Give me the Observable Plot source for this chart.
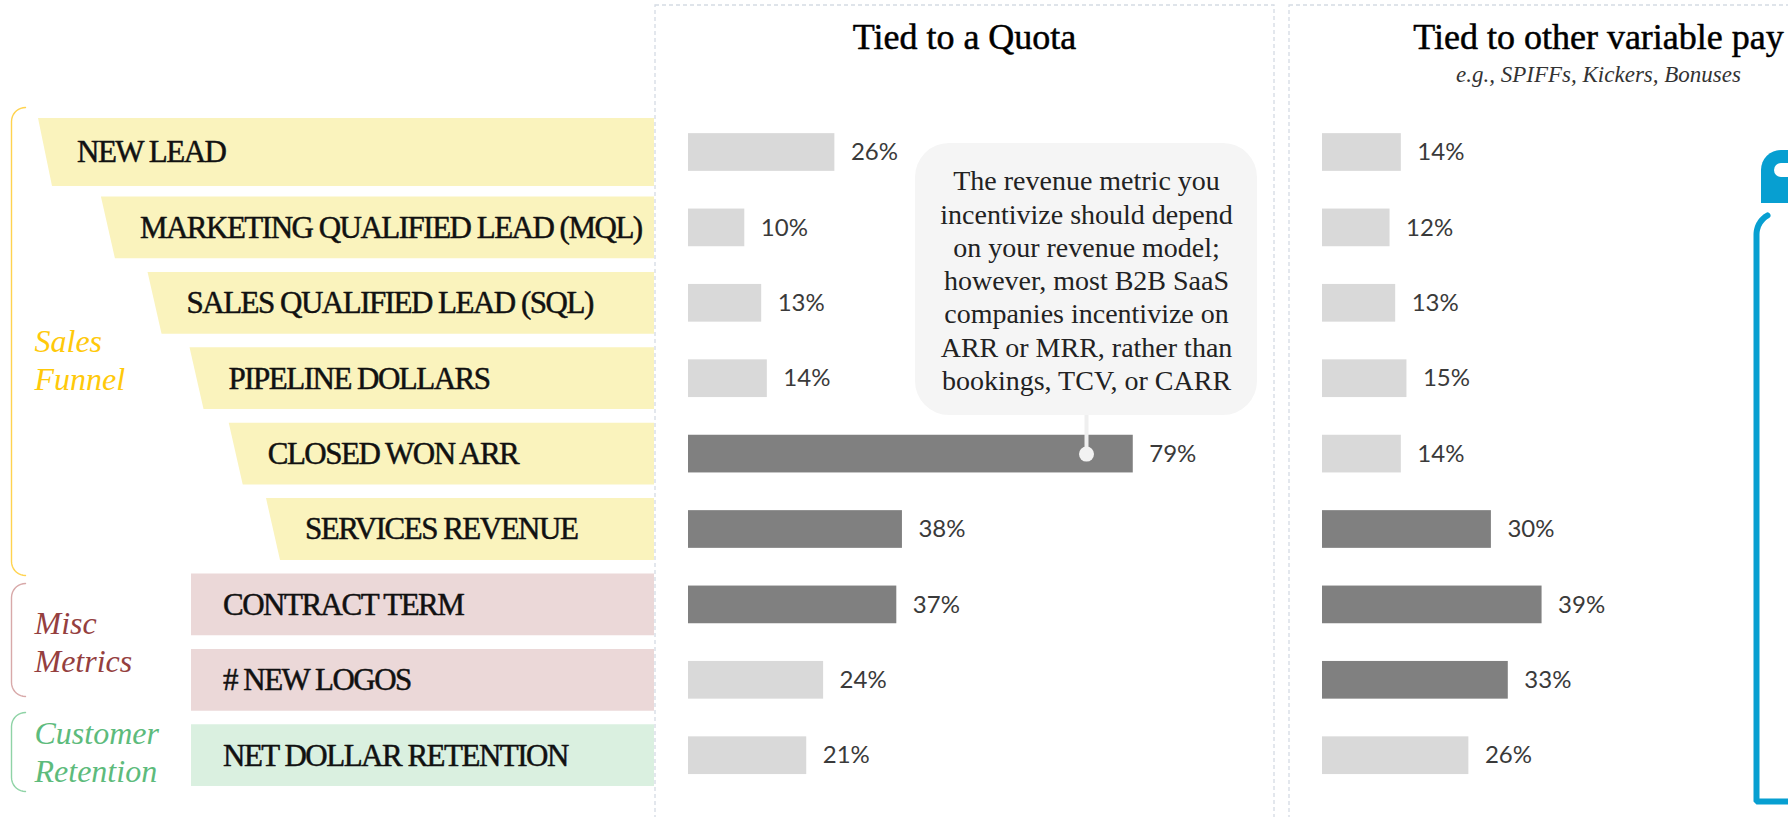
<!DOCTYPE html>
<html>
<head>
<meta charset="utf-8">
<script src="https://cdn.jsdelivr.net/npm/d3@7"></script>
<script src="https://cdn.jsdelivr.net/npm/@observablehq/plot@0.6"></script>
<style>
  html, body { margin: 0; padding: 0; background: #fff; }
  #chart { width: 1788px; height: 817px; overflow: hidden; }
</style>
</head>
<body>
<div id="chart"></div>
<script>
// ---------------- data ----------------
const categories = [
  "NEW LEAD",
  "MARKETING QUALIFIED LEAD (MQL)",
  "SALES QUALIFIED LEAD (SQL)",
  "PIPELINE DOLLARS",
  "CLOSED WON ARR",
  "SERVICES REVENUE",
  "CONTRACT TERM",
  "# NEW LOGOS",
  "NET DOLLAR RETENTION"
];
const categoryGroups = [
  "Sales Funnel", "Sales Funnel", "Sales Funnel", "Sales Funnel", "Sales Funnel", "Sales Funnel",
  "Misc Metrics", "Misc Metrics",
  "Customer Retention"
];
const tiedToQuota    = [26, 10, 13, 14, 79, 38, 37, 24, 21];
const tiedToOtherPay = [14, 12, 13, 15, 14, 30, 39, 33, 26];
const panelTitles    = ["Tied to a Quota", "Tied to other variable pay"];
const panelSubtitles = ["", "e.g., SPIFFs, Kickers, Bonuses"];
const groupNames     = ["Sales Funnel", "Misc Metrics", "Customer Retention"];
const groupLabels    = ["Sales\nFunnel", "Misc\nMetrics", "Customer\nRetention"];
const calloutCategory = "CLOSED WON ARR";
const calloutText = [
  "The revenue metric you",
  "incentivize should depend",
  "on your revenue model;",
  "however, most B2B SaaS",
  "companies incentivize on",
  "ARR or MRR, rather than",
  "bookings, TCV, or CARR"
].join("\n");
const highlightThreshold = 30; // bars at or above are emphasised

// ---------------- layout helpers ----------------
const W = 1788, H = 817;
const PX0 = 688, PX_PER_PCT = 5.63;   // where 0% sits, pixels per percentage point
const ROW0 = 152, ROW_STEP = 75.4;    // first row centre, row spacing
const X = px => (px - PX0) / PX_PER_PCT;
const Y = py => (py - ROW0) / ROW_STEP;
const panelOffset = [0, X(1322)];

const groupColor   = {"Sales Funnel": "#ffc90a", "Misc Metrics": "#953f3f", "Customer Retention": "#5dbb7c"};
const bracketColor = {"Sales Funnel": "#ffd34f", "Misc Metrics": "#d8a9a9", "Customer Retention": "#8fd3a6"};
const bannerFill   = {"Sales Funnel": "#faf3bd", "Misc Metrics": "#ebd8d8", "Customer Retention": "#daf0e0"};
const DARK = "#808080", LIGHT = "#d9d9d9", BLUE = "#079fd1";

// banners (funnel trapezoids + rectangles)
const funnelCount = categoryGroups.filter(g => g === "Sales Funnel").length;
const bannerRows = [], bannerLabels = [];
categories.forEach((c, i) => {
  const inFunnel = categoryGroups[i] === "Sales Funnel";
  const tl = inFunnel ? 38 + 228 * Math.pow(i / (funnelCount - 1), 0.8) : 191;
  const bl = inFunnel ? tl + 14 : tl;
  const half = i === 0 ? 0.45 : 0.41;
  const fill = bannerFill[categoryGroups[i]];
  bannerRows.push({id: c, y: i - half, x1: X(tl), x2: X(654), fill});
  bannerRows.push({id: c, y: i + half, x1: X(bl), x2: X(654), fill});
  bannerLabels.push({text: c, y: i, x: X((tl + bl) / 2 + 31.5)});
});

// group brackets
const bracketExtent = {"Sales Funnel": [107, 575], "Misc Metrics": [583, 696], "Customer Retention": [712, 791]};
const groupLabelY   = {"Sales Funnel": 358, "Misc Metrics": 640, "Customer Retention": 750};
const bracketPts = [];
groupNames.forEach(g => {
  const [t, b] = bracketExtent[g];
  const r = 14;
  for (let a = 0; a <= 90; a += 10) {
    const th = a * Math.PI / 180;
    bracketPts.push({g, x: X(25 - r * Math.sin(th)), y: Y(t + r - r * Math.cos(th))});
  }
  for (let a = 90; a >= 0; a -= 10) {
    const th = a * Math.PI / 180;
    bracketPts.push({g, x: X(25 - r * Math.sin(th)), y: Y(b - r + r * Math.cos(th))});
  }
});
const groupTextData = groupNames.map((g, i) => ({g, text: groupLabels[i], x: X(34), y: Y(groupLabelY[g])}));

// bars
const barData = [];
[tiedToQuota, tiedToOtherPay].forEach((vals, p) =>
  vals.forEach((v, i) => barData.push({panel: p, cat: categories[i], row: i, value: v, base: panelOffset[p]}))
);

// panels
const panels = panelOffset.map((o, i) => ({o, title: panelTitles[i], subtitle: panelSubtitles[i]}));

// callout
const calloutRow = categories.indexOf(calloutCategory);
const bubble = {x1: X(915), x2: X(1257), y1: Y(143), y2: Y(415)};
const calloutX = X(1086);

// blue decorative frame in second panel
const frame = [];
for (let a = 60; a >= 0; a -= 5) {
  const th = a * Math.PI / 180;
  frame.push({x: X(1778 - 22 * Math.cos(th)), y: Y(234 - 22 * Math.sin(th))});
}
frame.push({x: X(1756), y: Y(801)});
frame.push({x: X(1810), y: Y(801)});

const SERIF = "Liberation Serif, Times New Roman, serif";

const chart = Plot.plot({
  width: W, height: H, margin: 0,
  x: {domain: [X(0), X(W)], axis: null},
  y: {domain: [Y(0), Y(H)], range: [0, H], axis: null},
  color: {type: "identity"},
  style: {background: "#fff", overflow: "hidden"},
  marks: [
    // panel frames
    Plot.rect(panels, {x1: d => d.o + X(655), x2: d => d.o + X(1274), y1: Y(5), y2: Y(920),
      fill: "none", stroke: "#d5dbe4", strokeWidth: 1.3, strokeDasharray: "4,3"}),
    // panel titles
    Plot.text(panels, {x: d => d.o + X(964), y: Y(36.5), text: "title", fontFamily: SERIF, fontSize: 36,
      fill: "#000", stroke: "#000", strokeWidth: 0.5, textAnchor: "middle"}),
    Plot.text(panels, {x: d => d.o + X(964), y: Y(74), text: "subtitle", fontFamily: SERIF, fontStyle: "italic", fontSize: 23, fill: "#333", textAnchor: "middle"}),
    // banners
    Plot.areaX(bannerRows, {y: "y", x1: "x1", x2: "x2", z: "id", fill: "fill", curve: "linear"}),
    Plot.text(bannerLabels, {x: "x", y: "y", text: "text", textAnchor: "start", fontFamily: SERIF, fontSize: 31,
      fill: "#111", stroke: "#111", strokeWidth: 0.5}),
    // brackets and group labels
    Plot.line(bracketPts, {x: "x", y: "y", z: "g", stroke: d => bracketColor[d.g], strokeWidth: 1.4, curve: "linear"}),
    Plot.text(groupTextData, {x: "x", y: "y", text: "text", textAnchor: "start", fontFamily: SERIF, fontStyle: "italic", fontSize: 32, lineHeight: 1.2, fill: d => groupColor[d.g]}),
    // bars
    Plot.rect(barData, {x1: "base", x2: d => d.base + d.value, y1: d => d.row - 0.25, y2: d => d.row + 0.25,
      fill: d => d.value >= highlightThreshold ? DARK : LIGHT}),
    Plot.text(barData, {x: d => d.base + d.value, y: "row", text: d => d.value + "%", dx: 16, textAnchor: "start",
      fontFamily: "Lato, Open Sans, sans-serif", fontSize: 24, fill: "#3a3a3a"}),
    // callout bubble
    Plot.rect([bubble], {x1: "x1", x2: "x2", y1: "y1", y2: "y2", rx: 34, fill: "#f5f5f5"}),
    Plot.ruleX([{x: calloutX, y1: bubble.y2, y2: calloutRow}], {x: "x", y1: "y1", y2: "y2", stroke: "#efefef", strokeWidth: 4}),
    Plot.dot([{x: calloutX, y: calloutRow}], {x: "x", y: "y", r: 7.5, fill: "#f2f2f2", stroke: "none"}),
    Plot.text([calloutText], {x: calloutX, y: (bubble.y1 + bubble.y2) / 2, text: d => d, fontFamily: SERIF, fontSize: 28, lineHeight: 1.19, fill: "#222", textAnchor: "middle"}),
    // blue quote frame
    Plot.rect([0], {x1: X(1761), x2: X(1850), y1: Y(150), y2: Y(203), rx: 20, fill: BLUE}),
    Plot.rect([0], {x1: X(1761), x2: X(1850), y1: Y(180), y2: Y(203), fill: BLUE}),
    Plot.rect([0], {x1: X(1774), x2: X(1850), y1: Y(163), y2: Y(177), rx: 7, fill: "#fff"}),
    Plot.line(frame, {x: "x", y: "y", stroke: BLUE, strokeWidth: 6, strokeLinejoin: "miter", curve: "linear"})
  ]
});
// tighten the banner lettering (condensed caps as in the original)
d3.select(chart).selectAll("text")
  .filter(function() { return categories.includes(this.textContent); })
  .attr("letter-spacing", "-1.5px");
document.getElementById("chart").appendChild(chart);
</script>
</body>
</html>
